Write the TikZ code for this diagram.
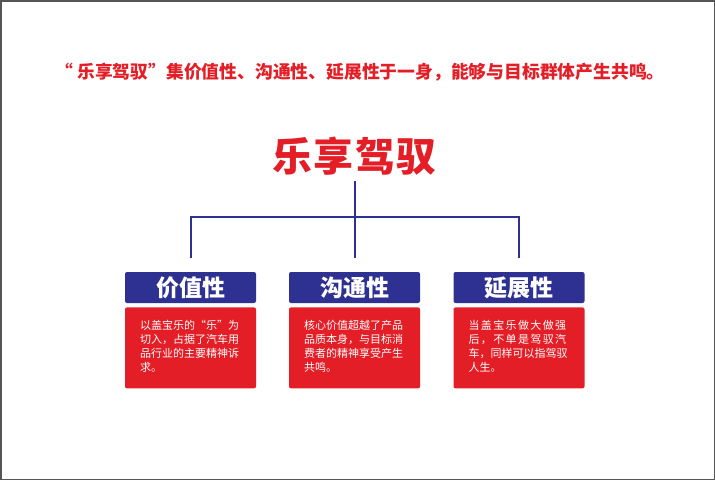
\documentclass[tikz,border=0pt]{standalone}
\usepackage{fontspec}
\setmainfont{Noto Sans CJK SC}
\usetikzlibrary{positioning}
\definecolor{Red}{HTML}{E31E26}
\definecolor{Navy}{HTML}{2E3192}
\definecolor{Frame}{HTML}{555555}

\begin{document}
\begin{tikzpicture}[x=1pt,y=-1pt,
  title/.style={text=Red,font=\bfseries\fontsize{17.8}{20}\selectfont,inner sep=0pt},
  head/.style={text=Red,font=\bfseries\fontsize{40}{44}\selectfont\addfontfeature{LetterSpace=3},inner xsep=0pt,inner ysep=6pt},
  tag/.style={rounded corners=2pt,fill=Navy,text=white,minimum width=131pt,minimum height=31pt,inner sep=0pt,font=\bfseries\fontsize{23}{25}\selectfont},
  body/.style={rounded corners=2pt,fill=Red,minimum width=131pt,minimum height=81pt,inner sep=0pt},
  note/.style={text=white,align=left,inner sep=0pt,font=\fontsize{11}{14}\selectfont},
  link/.style={draw=Navy,line width=2pt}
]
\useasboundingbox (0,0) rectangle (715,480);
\draw[Frame,line width=1.5pt] (0.75,0.75) rectangle (714.25,479.25);

\node[title] (slogan) at (360,72) {“ 乐享驾驭”集价值性、沟通性、延展性于一身，能够与目标群体产生共鸣。};
\node[head] (brand) at (354.5,156) {乐享驾驭};

\foreach \i/\x/\t in {1/190.5/价值性,2/354.5/沟通性,3/519/延展性} {
  \node[tag] (hd\i) at (\x,287.5) {\t};
  \node[body,below=4pt of hd\i] (bd\i) {};
}

\node[note,anchor=north west] (tx1) at ([xshift=15pt,yshift=-13pt]bd1.north west)
  {以盖宝乐的“乐”为\\切入，占据了汽车用\\品行业的主要精神诉\\求。};
\node[note,anchor=north west] (tx2) at ([xshift=15pt,yshift=-13pt]bd2.north west)
  {核心价值超越了产品\\品质本身，与目标消\\费者的精神享受产生\\共鸣。};
\node[note,anchor=north west] (tx3) at ([xshift=15pt,yshift=-13pt]bd3.north west)
  {{\addfontfeature{LetterSpace=12.5}当盖宝乐做大做强}\\{\addfontfeature{LetterSpace=12.5}后，不单是驾驭汽}\\车，同样可以指驾驭\\人生。};

% tree connectors
\coordinate (bar) at (354.5,217);
\draw[link] (brand.south) -- ([yshift=14pt]hd2.north);
\draw[link] ([yshift=14pt]hd1.north) |- (bar) -| ([yshift=14pt]hd3.north);
\end{tikzpicture}
\end{document}
